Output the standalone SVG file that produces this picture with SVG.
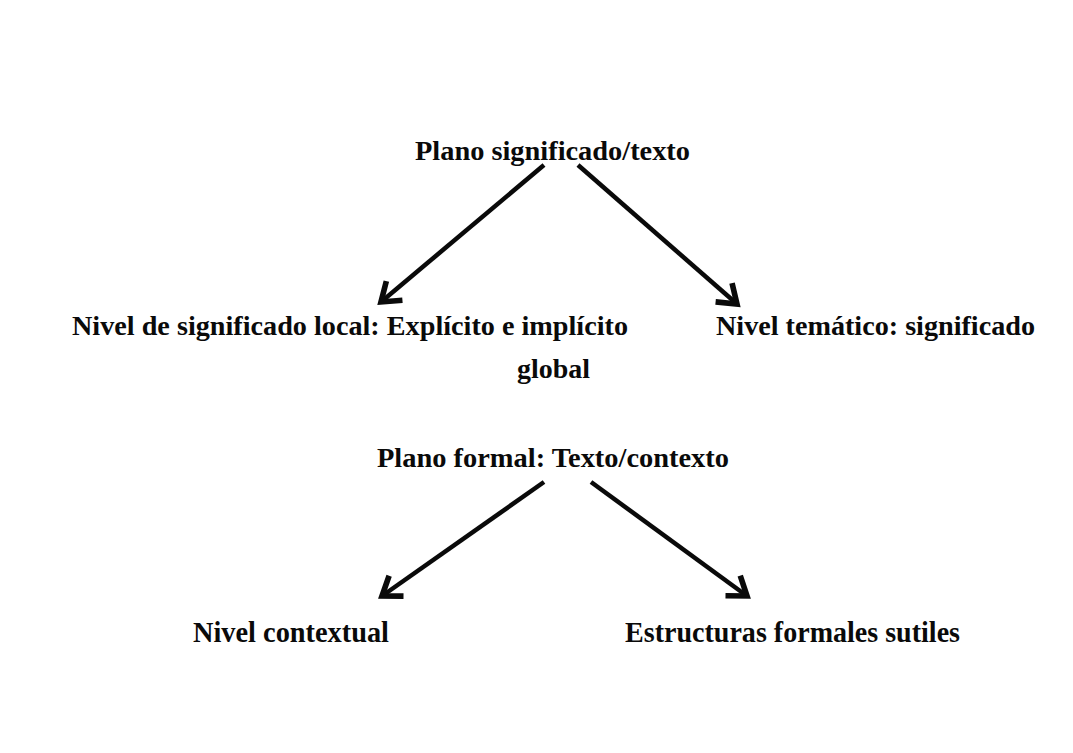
<svg xmlns="http://www.w3.org/2000/svg" width="1073" height="753" viewBox="0 0 1073 753">
<style>
.t{font-family:"Liberation Serif","Times New Roman",Times,serif;font-weight:700;font-size:27px;fill:#0a0a0a}
.b{font-size:29px}
.c{stroke:#0a0a0a;stroke-width:4.5;fill:none}
</style>
<defs>
<marker id="ah" markerUnits="userSpaceOnUse" markerWidth="30" markerHeight="30" viewBox="-20 -12 24 24" refX="0" refY="0" orient="auto">
<path d="M-14,-10 L0,0 L-14,10" fill="none" stroke="#0a0a0a" stroke-width="4.5" stroke-linejoin="miter"/>
</marker>
</defs>
<rect width="1073" height="753" fill="#fff"/>
<g id="n1"><text class="t" x="415" y="160" textLength="275" lengthAdjust="spacingAndGlyphs">Plano significado/texto</text></g>
<g id="n2"><text class="t" x="72" y="335" textLength="556" lengthAdjust="spacingAndGlyphs">Nivel de significado local: Explícito e implícito</text>
<text class="t" x="517" y="378" textLength="73" lengthAdjust="spacingAndGlyphs">global</text></g>
<g id="n3"><text class="t" x="716" y="335" textLength="319" lengthAdjust="spacingAndGlyphs">Nivel temático: significado</text></g>
<g id="n4"><text class="t" x="377" y="467" textLength="352" lengthAdjust="spacingAndGlyphs">Plano formal: Texto/contexto</text></g>
<g id="n5"><text class="t b" x="193" y="642" textLength="196" lengthAdjust="spacingAndGlyphs">Nivel contextual</text></g>
<g id="n6"><text class="t b" x="625" y="642" textLength="335" lengthAdjust="spacingAndGlyphs">Estructuras formales sutiles</text></g>
<g id="connectors">
<line class="c" x1="544" y1="165" x2="381" y2="302" marker-end="url(#ah)"/>
<line class="c" x1="578" y1="165" x2="737" y2="304" marker-end="url(#ah)"/>
<line class="c" x1="544" y1="482" x2="382" y2="596" marker-end="url(#ah)"/>
<line class="c" x1="591" y1="482" x2="747" y2="596" marker-end="url(#ah)"/>
</g>
</svg>
